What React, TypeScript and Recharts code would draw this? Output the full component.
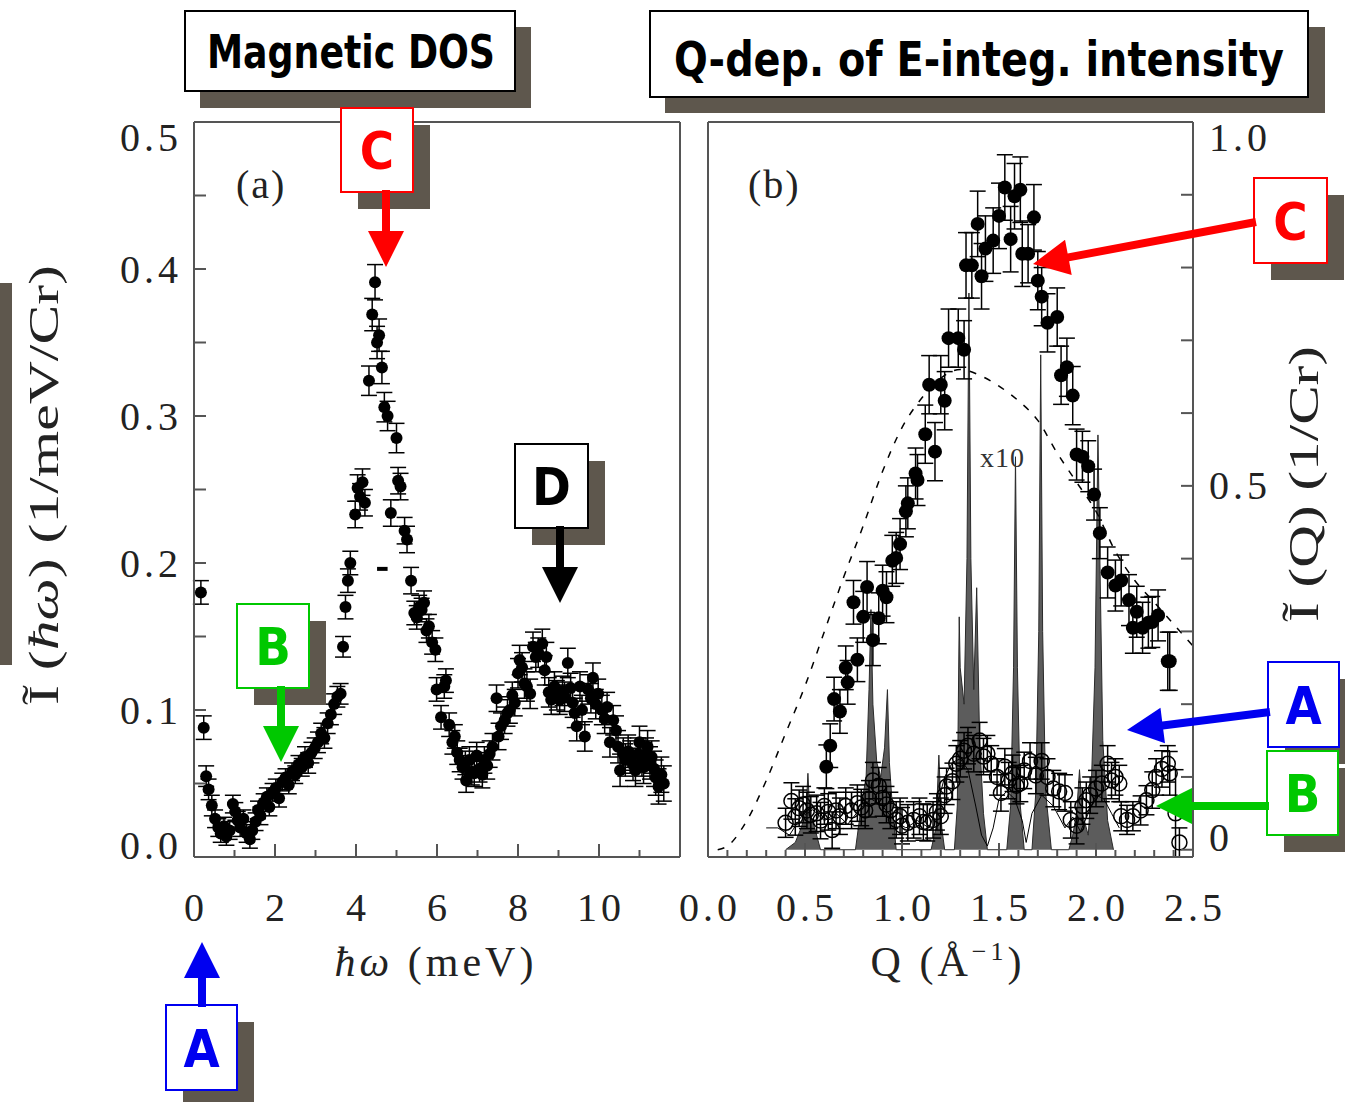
import React from "react";
import { ComposedChart, Scatter, Area, Line, XAxis, YAxis, ErrorBar, ReferenceLine } from "recharts";

// ---------- panel (a): magnetic DOS ----------
const energyA = [
  0.17, 0.24, 0.3, 0.36, 0.44, 0.52, 0.6, 0.66, 0.74, 0.8, 0.88, 0.96, 1.02, 1.08, 1.14, 1.22, 1.3, 1.38, 1.44, 1.52,
  1.58, 1.64, 1.72, 1.8, 1.86, 1.94, 2.02, 2.1, 2.18, 2.26, 2.34, 2.42, 2.5, 2.58, 2.66, 2.74, 2.82, 2.9, 2.98, 3.06,
  3.14, 3.22, 3.3, 3.38, 3.46, 3.54, 3.62, 3.68, 3.74, 3.8, 3.86, 3.98, 4.04, 4.1, 4.16, 4.22, 4.32, 4.4, 4.47, 4.52,
  4.57, 4.64, 4.7, 4.78, 4.86, 5.0, 5.04, 5.1, 5.2, 5.26, 5.36, 5.44, 5.5, 5.56, 5.62, 5.68, 5.74, 5.8, 5.88, 5.96,
  5.99, 6.1, 6.18, 6.22, 6.3, 6.38, 6.44, 6.5, 6.56, 6.63, 6.7, 6.72, 6.8, 6.86, 6.92, 6.98, 7.05, 7.12, 7.17, 7.24,
  7.3, 7.37, 7.47, 7.52, 7.58, 7.67, 7.74, 7.8, 7.86, 7.92, 8.0, 8.04, 8.1, 8.16, 8.22, 8.3, 8.37, 8.44, 8.5, 8.6,
  8.66, 8.7, 8.76, 8.82, 8.9, 8.96, 9.03, 9.1, 9.15, 9.23, 9.3, 9.35, 9.4, 9.45, 9.53, 9.58, 9.65, 9.73, 9.8, 9.85,
  9.92, 9.98, 10.07, 10.14, 10.2, 10.27, 10.35, 10.42, 10.47, 10.52, 10.6, 10.65, 10.72, 10.77, 10.84, 10.9, 10.96,
  11.0, 11.06, 11.1, 11.16, 11.2, 11.26, 11.3, 11.36, 11.4, 11.47, 11.54, 11.6,
];
const dosA = [
  0.18, 0.088, 0.055, 0.046, 0.035, 0.026, 0.02, 0.016, 0.021, 0.014, 0.018, 0.036, 0.031, 0.025, 0.02, 0.026, 0.016, 0.012, 0.018, 0.024,
  0.032, 0.028, 0.037, 0.041, 0.034, 0.044, 0.047, 0.04, 0.051, 0.054, 0.049, 0.058, 0.056, 0.063, 0.061, 0.068, 0.064, 0.071, 0.074, 0.078,
  0.084, 0.081, 0.091, 0.097, 0.104, 0.109, 0.111, 0.143, 0.17, 0.188, 0.2, 0.233, 0.251, 0.245, 0.255, 0.241, 0.324, 0.369, 0.391, 0.35,
  0.355, 0.333, 0.306, 0.3, 0.234, 0.285, 0.256, 0.252, 0.222, 0.216, 0.188, 0.166, 0.163, 0.17, 0.168, 0.173, 0.154, 0.157, 0.146, 0.141,
  0.114, 0.095, 0.116, 0.12, 0.09, 0.078, 0.082, 0.071, 0.066, 0.061, 0.064, 0.052, 0.066, 0.058, 0.057, 0.069, 0.06, 0.056, 0.066, 0.062,
  0.07, 0.075, 0.108, 0.082, 0.089, 0.093, 0.098, 0.1, 0.11, 0.105, 0.125, 0.134, 0.129, 0.118, 0.116, 0.111, 0.143, 0.136, 0.139, 0.145,
  0.127, 0.136, 0.112, 0.107, 0.116, 0.11, 0.107, 0.113, 0.109, 0.132, 0.115, 0.105, 0.098, 0.089, 0.116, 0.1, 0.082, 0.114, 0.108, 0.122,
  0.104, 0.111, 0.1, 0.094, 0.102, 0.078, 0.093, 0.086, 0.075, 0.059, 0.07, 0.066, 0.072, 0.068, 0.063, 0.059, 0.07,
  0.078, 0.066, 0.061, 0.07, 0.075, 0.064, 0.068, 0.06, 0.054, 0.048, 0.056, 0.05,
];
const dosErrA = [
  0.008, 0.008, 0.007, 0.007, 0.007, 0.006, 0.006, 0.006, 0.006, 0.006, 0.006, 0.006, 0.006, 0.006, 0.006, 0.006, 0.006, 0.006, 0.006, 0.006,
  0.006, 0.006, 0.006, 0.006, 0.006, 0.006, 0.006, 0.006, 0.006, 0.006, 0.006, 0.006, 0.006, 0.006, 0.006, 0.007, 0.007, 0.007, 0.007, 0.007,
  0.007, 0.007, 0.007, 0.007, 0.007, 0.007, 0.007, 0.007, 0.008, 0.008, 0.008, 0.009, 0.009, 0.009, 0.009, 0.009, 0.01, 0.011, 0.012, 0.011,
  0.011, 0.011, 0.01, 0.01, 0.009, 0.01, 0.009, 0.009, 0.009, 0.009, 0.009, 0.008, 0.008, 0.008, 0.008, 0.008, 0.008, 0.008, 0.008, 0.008,
  0.008, 0.008, 0.008, 0.008, 0.008, 0.008, 0.008, 0.008, 0.008, 0.008, 0.008, 0.008, 0.009, 0.009, 0.009, 0.009, 0.009, 0.009, 0.009, 0.009,
  0.009, 0.009, 0.009, 0.009, 0.009, 0.009, 0.009, 0.009, 0.009, 0.009, 0.01, 0.01, 0.01, 0.01, 0.01, 0.01, 0.01, 0.01, 0.01, 0.01,
  0.01, 0.01, 0.01, 0.01, 0.01, 0.01, 0.01, 0.01, 0.01, 0.01, 0.01, 0.01, 0.01, 0.01, 0.01, 0.01, 0.01, 0.01, 0.01, 0.01,
  0.01, 0.01, 0.01, 0.01, 0.01, 0.01, 0.01, 0.01, 0.011, 0.011, 0.011, 0.011, 0.011, 0.011, 0.011, 0.011, 0.011,
  0.011, 0.011, 0.011, 0.011, 0.011, 0.011, 0.011, 0.012, 0.012, 0.012, 0.012, 0.012,
];

// ---------- panel (b): Q dependence ----------
const qFilled = [
  0.61, 0.63, 0.65, 0.68, 0.71, 0.72, 0.75, 0.77, 0.8, 0.82, 0.85, 0.88, 0.9, 0.92, 0.95, 0.97, 0.99, 1.02, 1.03, 1.07,
  1.08, 1.12, 1.14, 1.17, 1.2, 1.22, 1.24, 1.29, 1.32, 1.33, 1.36, 1.39, 1.41, 1.43, 1.47, 1.5, 1.53, 1.56, 1.58, 1.61,
  1.62, 1.65, 1.68, 1.7, 1.72, 1.75, 1.8, 1.82, 1.85, 1.88, 1.9, 1.93, 1.96, 1.99, 2.02, 2.06, 2.1, 2.13, 2.17, 2.19,
  2.21, 2.24, 2.27, 2.29, 2.32, 2.37, 2.38,
];
const intFilled = [
  0.114, 0.143, 0.207, 0.19, 0.25, 0.23, 0.34, 0.261, 0.32, 0.361, 0.288, 0.318, 0.356, 0.347, 0.397, 0.401, 0.42, 0.465, 0.476, 0.517,
  0.508, 0.571, 0.639, 0.547, 0.639, 0.617, 0.703, 0.703, 0.687, 0.803, 0.803, 0.86, 0.788, 0.826, 0.837, 0.871, 0.91, 0.839, 0.898, 0.907,
  0.819, 0.819, 0.869, 0.782, 0.76, 0.724, 0.732, 0.652, 0.663, 0.624, 0.543, 0.54, 0.527, 0.488, 0.435, 0.381, 0.363, 0.37, 0.343, 0.305,
  0.327, 0.305, 0.312, 0.313, 0.322, 0.259, 0.259,
];
const errFilled = [
  0.03, 0.03, 0.03, 0.03, 0.03, 0.03, 0.03, 0.03, 0.035, 0.035, 0.035, 0.035, 0.035, 0.035, 0.035, 0.035, 0.035, 0.035, 0.035, 0.035,
  0.035, 0.04, 0.04, 0.04, 0.04, 0.04, 0.04, 0.04, 0.04, 0.045, 0.045, 0.045, 0.045, 0.045, 0.045, 0.045, 0.045, 0.045, 0.045, 0.045,
  0.045, 0.04, 0.045, 0.04, 0.04, 0.04, 0.04, 0.04, 0.04, 0.04, 0.035, 0.035, 0.035, 0.035, 0.035, 0.035, 0.035, 0.035, 0.035, 0.035,
  0.035, 0.035, 0.035, 0.035, 0.035, 0.04, 0.04,
];

const qOpen = [
  0.4, 0.43, 0.45, 0.47, 0.49, 0.51, 0.53, 0.56, 0.58, 0.6, 0.62, 0.64, 0.66, 0.68, 0.71, 0.74, 0.77, 0.79, 0.81, 0.83,
  0.85, 0.88, 0.9, 0.92, 0.94, 0.97, 0.99, 1.0, 1.03, 1.06, 1.09, 1.11, 1.13, 1.16, 1.18, 1.2, 1.22, 1.23, 1.26, 1.28,
  1.3, 1.32, 1.34, 1.37, 1.4, 1.42, 1.44, 1.46, 1.49, 1.51, 1.53, 1.55, 1.57, 1.59, 1.61, 1.63, 1.66, 1.69, 1.72, 1.75,
  1.78, 1.81, 1.84, 1.87, 1.9, 1.93, 1.95, 1.97, 2.0, 2.03, 2.06, 2.08, 2.1, 2.12, 2.13, 2.16, 2.19, 2.23, 2.26, 2.29,
  2.31, 2.34, 2.37, 2.38, 2.41, 2.43,
];
const intOpen = [
  0.037, 0.067, 0.045, 0.057, 0.062, 0.054, 0.048, 0.05, 0.04, 0.06, 0.052, 0.027, 0.054, 0.046, 0.06, 0.054, 0.064, 0.058, 0.054, 0.07,
  0.095, 0.088, 0.071, 0.062, 0.054, 0.041, 0.046, 0.033, 0.037, 0.041, 0.046, 0.038, 0.037, 0.041, 0.052, 0.046, 0.075, 0.087, 0.094, 0.118,
  0.125, 0.136, 0.143, 0.132, 0.15, 0.128, 0.132, 0.118, 0.1, 0.078, 0.114, 0.095, 0.105, 0.088, 0.091, 0.109, 0.122, 0.102, 0.122, 0.1,
  0.084, 0.08, 0.078, 0.041, 0.033, 0.06, 0.068, 0.075, 0.084, 0.091, 0.118, 0.095, 0.1, 0.091, 0.046, 0.041, 0.046, 0.054, 0.068, 0.082,
  0.1, 0.111, 0.118, 0.105, 0.05, 0.01,
];
const errOpen = [
  0.02, 0.025, 0.025, 0.025, 0.025, 0.025, 0.025, 0.025, 0.025, 0.025, 0.025, 0.025, 0.025, 0.025, 0.025, 0.025, 0.025, 0.025, 0.025, 0.025,
  0.025, 0.025, 0.025, 0.025, 0.025, 0.025, 0.025, 0.025, 0.025, 0.025, 0.025, 0.025, 0.025, 0.025, 0.025, 0.025, 0.025, 0.025, 0.025, 0.025,
  0.025, 0.025, 0.025, 0.025, 0.025, 0.025, 0.025, 0.025, 0.025, 0.025, 0.025, 0.025, 0.025, 0.025, 0.025, 0.025, 0.025, 0.025, 0.025, 0.025,
  0.025, 0.025, 0.025, 0.025, 0.025, 0.025, 0.025, 0.025, 0.025, 0.025, 0.025, 0.025, 0.025, 0.025, 0.02, 0.02, 0.02, 0.02, 0.02, 0.025,
  0.025, 0.025, 0.025, 0.03, 0.06, 0.02,
];

// nuclear Bragg scattering x10 (grey spikes)
const qBragg = [
  0.4, 0.45, 0.48, 0.505, 0.515, 0.525, 0.55, 0.58, 0.76, 0.79, 0.815, 0.83, 0.84, 0.85, 0.87, 0.89, 0.91, 0.925, 0.935, 0.95,
  0.97, 1.15, 1.175, 1.19, 1.205, 1.22, 1.27, 1.285, 1.295, 1.3, 1.32, 1.335, 1.345, 1.355, 1.37, 1.385, 1.4, 1.42, 1.44, 1.54,
  1.56, 1.575, 1.585, 1.595, 1.61, 1.63, 1.67, 1.69, 1.705, 1.715, 1.725, 1.74, 1.77, 1.86, 1.88, 1.9, 1.915, 1.93, 1.96, 1.975,
  1.995, 2.01, 2.02, 2.035, 2.06, 2.09,
];
const intBragg = [
  0, 0.01, 0.03, 0.05, 0.105, 0.05, 0.03, 0, 0, 0.06, 0.1, 0.22, 0.33, 0.2, 0.12, 0.1, 0.14, 0.22, 0.12, 0.06,
  0, 0, 0.03, 0.13, 0.03, 0, 0, 0.06, 0.32, 0.25, 0.2, 0.4, 0.765, 0.4, 0.22, 0.36, 0.15, 0.05, 0, 0,
  0.06, 0.25, 0.54, 0.25, 0.06, 0, 0, 0.08, 0.3, 0.68, 0.3, 0.08, 0, 0, 0.02, 0.05, 0.11, 0.05, 0.02, 0.08,
  0.25, 0.57, 0.4, 0.15, 0.04, 0,
];

// thin solid line under the open circles
const qThin = [
  0.3, 0.36, 0.42, 0.48, 0.54, 0.6, 0.66, 0.72, 0.78, 0.84, 0.9, 0.96, 1.02, 1.08, 1.14, 1.18, 1.22, 1.26, 1.3, 1.34,
  1.38, 1.41, 1.44, 1.47, 1.5, 1.54, 1.58, 1.62, 1.64, 1.67, 1.72, 1.78, 1.84, 1.88, 1.92, 1.96, 2.0, 2.04, 2.08, 2.12,
];
const intThin = [
  0.03, 0.03, 0.02, 0.045, 0.055, 0.04, 0.05, 0.035, 0.055, 0.07, 0.06, 0.04, 0.03, 0.04, 0.03, 0.06, 0.1, 0.12, 0.125, 0.11,
  0.06, 0.02, 0.005, 0.03, 0.07, 0.08, 0.07, 0.04, 0.01, 0.05, 0.075, 0.06, 0.03, 0.045, 0.025, 0.05, 0.075, 0.07, 0.05, 0.03,
];

// dashed form-factor curve
const qDash = [0.05, 0.1, 0.2, 0.3, 0.4, 0.5, 0.6, 0.7, 0.8, 0.9, 1.0, 1.1, 1.2, 1.3, 1.4, 1.5, 1.6, 1.7, 1.8, 1.9, 2.0, 2.1, 2.2, 2.3, 2.4, 2.5];
const intDash = [0, 0.005, 0.04, 0.095, 0.16, 0.225, 0.3, 0.375, 0.445, 0.52, 0.58, 0.62, 0.648, 0.66, 0.652, 0.637, 0.617, 0.59, 0.545, 0.505, 0.465, 0.41, 0.37, 0.34, 0.31, 0.28];

// axis ticks
const xTicksA = [0, 1, 2, 3, 4, 5, 6, 7, 8, 9, 10, 11, 12];
const xMajorA = [0, 2, 4, 6, 8, 10, 12];
const xLabelsA: Record<string, string> = { "0.00": "0", "2.00": "2", "4.00": "4", "6.00": "6", "8.00": "8", "10.00": "10" };
const yTicksA = [0, 0.05, 0.1, 0.15, 0.2, 0.25, 0.3, 0.35, 0.4, 0.45, 0.5];
const yLabelsA: Record<string, string> = { "0.00": "0.0", "0.10": "0.1", "0.20": "0.2", "0.30": "0.3", "0.40": "0.4", "0.50": "0.5" };
const xTicksB = [0, 0.1, 0.2, 0.3, 0.4, 0.5, 0.6, 0.7, 0.8, 0.9, 1.0, 1.1, 1.2, 1.3, 1.4, 1.5, 1.6, 1.7, 1.8, 1.9, 2.0, 2.1, 2.2, 2.3, 2.4, 2.5];
const xMajorB = [0, 0.5, 1.0, 1.5, 2.0, 2.5];
const xLabelsB: Record<string, string> = { "0.00": "0.0", "0.50": "0.5", "1.00": "1.0", "1.50": "1.5", "2.00": "2.0", "2.50": "2.5" };
const yTicksB = [0, 0.1, 0.2, 0.3, 0.4, 0.5, 0.6, 0.7, 0.8, 0.9, 1.0];
const yLabelsB: Record<string, string> = { "0.00": "0", "0.50": "0.5", "1.00": "1.0" };

const zip = (xs: number[], ys: number[], es?: number[]) => xs.map((x, i) => ({ x, y: ys[i], err: es ? es[i] : 0 }));

const SERIF = "'Liberation Serif', 'DejaVu Serif', serif";
const HAND = "'Liberation Sans Narrow', 'DejaVu Sans Condensed', 'DejaVu Sans', sans-serif";
const FRAME = "#555";
const SHADOW = "#5e574d";
const RED = "#ff0000";
const GREEN = "#00c800";
const BLUE = "#0000f0";

function tickRenderer(side: string, labels: Record<string, string>, majors: number[] | null, majorLen: number, minorLen: number) {
  return (props: any) => {
    const { x, y, payload, index, visibleTicksCount } = props;
    const v = Number(payload.value);
    const key = v.toFixed(2);
    const major = majors ? majors.some((m) => Math.abs(m - v) < 1e-6) : true;
    const len = major ? majorLen : minorLen;
    const lab = labels[key];
    const ts = { fontFamily: SERIF, fontSize: 40, fill: "#222", letterSpacing: 4 } as any;
    let dy = 0;
    if (side === "left" || side === "right") {
      if (index === 0) dy = -12;
      if (index === visibleTicksCount - 1) dy = 15;
    }
    if (side === "left")
      return (
        <g>
          <line x1={x} y1={y} x2={x + len} y2={y} stroke={FRAME} strokeWidth={2} />
          {lab && <text x={x - 12} y={y + dy} textAnchor="end" dominantBaseline="central" style={ts}>{lab}</text>}
        </g>
      );
    if (side === "right")
      return (
        <g>
          <line x1={x} y1={y} x2={x - len} y2={y} stroke={FRAME} strokeWidth={2} />
          {lab && <text x={x + 16} y={y + dy} textAnchor="start" dominantBaseline="central" style={ts}>{lab}</text>}
        </g>
      );
    if (side === "bottom")
      return (
        <g>
          <line x1={x} y1={y} x2={x} y2={y - len} stroke={FRAME} strokeWidth={2} />
          {lab && <text x={x + 2} y={y + 50} textAnchor="middle" dominantBaseline="central" style={ts}>{lab}</text>}
        </g>
      );
    return (
      <g>
        <line x1={x} y1={y} x2={x} y2={y + len} stroke={FRAME} strokeWidth={2} />
      </g>
    );
  };
}

const dot = (r: number) => (p: any) => <circle cx={p.cx} cy={p.cy} r={r} fill="#000" />;
const ring = (p: any) => <circle cx={p.cx} cy={p.cy} r={7.5} fill="none" stroke="#000" strokeWidth={1.5} />;

function Arrow({ x1, y1, x2, y2, color }: { x1: number; y1: number; x2: number; y2: number; color: string }) {
  const dx = x2 - x1;
  const dy = y2 - y1;
  const L = Math.hypot(dx, dy);
  const ux = dx / L;
  const uy = dy / L;
  const nx = -uy;
  const ny = ux;
  const hl = 36;
  const hw = 18;
  const sw = 4;
  const bx = x2 - ux * hl;
  const by = y2 - uy * hl;
  const pts = [
    [x1 + nx * sw, y1 + ny * sw],
    [bx + nx * sw, by + ny * sw],
    [bx + nx * hw, by + ny * hw],
    [x2, y2],
    [bx - nx * hw, by - ny * hw],
    [bx - nx * sw, by - ny * sw],
    [x1 - nx * sw, y1 - ny * sw],
  ];
  return <polygon points={pts.map((p) => p.join(",")).join(" ")} fill={color} />;
}

function Callout({ x, y, w, h, label, color }: { x: number; y: number; w: number; h: number; label: string; color: string }) {
  return (
    <g>
      <rect x={x + 17} y={y + 17} width={w} height={h} fill={SHADOW} />
      <rect x={x} y={y} width={w} height={h} fill="#fff" stroke={color} strokeWidth={2} />
      <text x={x + w / 2} y={y + h / 2 + 19} textAnchor="middle" fill={color} style={{ fontFamily: HAND, fontSize: 52, fontWeight: 700 }}>
        {label}
      </text>
    </g>
  );
}

export default function App() {
  const dos = zip(energyA, dosA, dosErrA);
  const filled = zip(qFilled, intFilled, errFilled);
  const open = zip(qOpen, intOpen, errOpen);
  const bragg = zip(qBragg, intBragg);
  const thin = zip(qThin, intThin);
  const dash = zip(qDash, intDash);
  const axisLine = { stroke: FRAME, strokeWidth: 2 };

  return (
    <div style={{ position: "absolute", left: 0, top: 0, width: 1345, height: 1102, background: "#fff", overflow: "hidden" }}>
      <div style={{ position: "absolute", left: 0, top: 0 }}>
        <ComposedChart width={700} height={1000} margin={{ top: 112, left: 114, right: 10, bottom: 83 }}>
          <XAxis xAxisId="b" dataKey="x" type="number" domain={[0, 12]} ticks={xTicksA} interval={0} height={60} tickSize={0} tickMargin={0} tickLine={false} axisLine={axisLine} tick={tickRenderer("bottom", xLabelsA, xMajorA, 13, 7)} />
          <XAxis xAxisId="t" dataKey="x" type="number" orientation="top" domain={[0, 12]} ticks={xTicksA} interval={0} height={10} tickSize={0} tickMargin={0} tickLine={false} axisLine={axisLine} tick={tickRenderer("top", {}, xMajorA, 13, 7)} />
          <YAxis yAxisId="l" dataKey="y" type="number" domain={[0, 0.5]} ticks={yTicksA} interval={0} width={80} tickSize={0} tickMargin={0} tickLine={false} axisLine={axisLine} tick={tickRenderer("left", yLabelsA, null, 12, 12)} />
          <YAxis yAxisId="r" dataKey="y" type="number" orientation="right" domain={[0, 0.5]} ticks={yTicksA} interval={0} width={10} tickSize={0} tickMargin={0} tickLine={false} axisLine={axisLine} tick={tickRenderer("right", {}, null, 12, 12)} />
          <ReferenceLine xAxisId="b" yAxisId="l" segment={[{ x: 4.52, y: 0.196 }, { x: 4.78, y: 0.196 }]} stroke="#000" strokeWidth={4} />
          <Scatter xAxisId="b" yAxisId="l" data={dos} dataKey="y" shape={dot(6)} isAnimationActive={false}>
            <ErrorBar dataKey="err" direction="y" width={8} stroke="#000" strokeWidth={1.5} />
          </Scatter>
        </ComposedChart>
      </div>

      <div style={{ position: "absolute", left: 650, top: 0 }}>
        <ComposedChart width={695} height={1000} margin={{ top: 112, left: 48, right: 52, bottom: 83 }}>
          <XAxis xAxisId="b" dataKey="x" type="number" domain={[0, 2.5]} ticks={xTicksB} interval={0} height={60} tickSize={0} tickMargin={0} tickLine={false} axisLine={axisLine} tick={tickRenderer("bottom", xLabelsB, xMajorB, 14, 7)} />
          <XAxis xAxisId="t" dataKey="x" type="number" orientation="top" domain={[0, 2.5]} ticks={xTicksB} interval={0} height={10} tickSize={0} tickMargin={0} tickLine={false} axisLine={axisLine} tick={tickRenderer("top", {}, xMajorB, 15, 6)} />
          <YAxis yAxisId="l" dataKey="y" type="number" domain={[0, 1]} ticks={yTicksB} interval={0} width={10} tickSize={0} tickMargin={0} tickLine={false} axisLine={axisLine} tick={tickRenderer("left", {}, null, 12, 12)} />
          <YAxis yAxisId="r" dataKey="y" type="number" orientation="right" domain={[0, 1]} ticks={yTicksB} interval={0} width={100} tickSize={0} tickMargin={0} tickLine={false} axisLine={axisLine} tick={tickRenderer("right", yLabelsB, null, 12, 12)} />
          <Area xAxisId="b" yAxisId="r" data={bragg} dataKey="y" type="linear" fill="#5c5c5c" fillOpacity={1} stroke="#2a2a2a" strokeWidth={1} dot={false} activeDot={false} isAnimationActive={false} />
          <Line xAxisId="b" yAxisId="r" data={dash} dataKey="y" type="monotone" stroke="#000" strokeWidth={1.5} strokeDasharray="7 9" dot={false} activeDot={false} isAnimationActive={false} />
          <Line xAxisId="b" yAxisId="r" data={thin} dataKey="y" type="linear" stroke="#000" strokeWidth={1} dot={false} activeDot={false} isAnimationActive={false} />
          <Scatter xAxisId="b" yAxisId="r" data={open} dataKey="y" shape={ring} isAnimationActive={false}>
            <ErrorBar dataKey="err" direction="y" width={8} stroke="#000" strokeWidth={1.5} />
          </Scatter>
          <Scatter xAxisId="b" yAxisId="r" data={filled} dataKey="y" shape={dot(7)} isAnimationActive={false}>
            <ErrorBar dataKey="err" direction="y" width={8} stroke="#000" strokeWidth={1.5} />
          </Scatter>
        </ComposedChart>
      </div>

      <svg width={1345} height={1102} style={{ position: "absolute", left: 0, top: 0, pointerEvents: "none" }}>
        {/* titles */}
        <rect x={200} y={27} width={331} height={81} fill={SHADOW} />
        <rect x={185} y={11} width={330} height={80} fill="#fff" stroke="#000" strokeWidth={2} />
        <text x={351} y={68} textAnchor="middle" textLength={288} lengthAdjust="spacingAndGlyphs" style={{ fontFamily: HAND, fontSize: 46, fontWeight: 700 }}>
          Magnetic DOS
        </text>
        <rect x={665} y={27} width={660} height={86} fill={SHADOW} />
        <rect x={650} y={11} width={658} height={86} fill="#fff" stroke="#000" strokeWidth={2} />
        <text x={979} y={76} textAnchor="middle" textLength={610} lengthAdjust="spacingAndGlyphs" style={{ fontFamily: HAND, fontSize: 48, fontWeight: 700 }}>
          Q-dep. of E-integ. intensity
        </text>

        {/* panel letters */}
        <text x={236} y={198} style={{ fontFamily: SERIF, fontSize: 40, fill: "#222", letterSpacing: 2 }}>(a)</text>
        <text x={748} y={198} style={{ fontFamily: SERIF, fontSize: 40, fill: "#222", letterSpacing: 2 }}>(b)</text>
        <text x={980} y={467} style={{ fontFamily: SERIF, fontSize: 28, fill: "#333", letterSpacing: 1 }}>x10</text>

        {/* axis titles */}
        <text x={436} y={976} textAnchor="middle" style={{ fontFamily: SERIF, fontSize: 42, fill: "#222", letterSpacing: 4 }}>
          <tspan fontStyle="italic">ħω</tspan> (meV)
        </text>
        <text x={948} y={976} textAnchor="middle" style={{ fontFamily: SERIF, fontSize: 42, fill: "#222", letterSpacing: 4 }}>
          Q (Å<tspan dy={-16} fontSize={26}>−1</tspan>
          <tspan dy={16}>)</tspan>
        </text>
        <rect x={0} y={283} width={12} height={382} fill={SHADOW} />
        <text transform="translate(44,485) rotate(-90)" textAnchor="middle" dominantBaseline="central" textLength={440} lengthAdjust="spacingAndGlyphs" style={{ fontFamily: SERIF, fontSize: 42, fill: "#222" }}>
          Ĩ (<tspan fontStyle="italic">ħω</tspan>) (1/meV/Cr)
        </text>
        <text transform="translate(1304,484) rotate(-90)" textAnchor="middle" dominantBaseline="central" textLength={276} lengthAdjust="spacingAndGlyphs" style={{ fontFamily: SERIF, fontSize: 42, fill: "#222" }}>
          Ĩ (Q) (1/Cr)
        </text>

        {/* callouts */}
        <Callout x={341} y={108} w={72} h={84} label="C" color={RED} />
        <Arrow x1={386} y1={190} x2={386} y2={267} color={RED} />
        <Callout x={515} y={444} w={73} h={84} label="D" color="#000" />
        <Arrow x1={560} y1={526} x2={560} y2={603} color="#000" />
        <Callout x={237} y={604} w={72} h={84} label="B" color={GREEN} />
        <Arrow x1={281} y1={686} x2={281} y2={762} color={GREEN} />
        <Callout x={166} y={1005} w={71} h={85} label="A" color={BLUE} />
        <Arrow x1={202} y1={1007} x2={202} y2={942} color={BLUE} />
        <Callout x={1254} y={178} w={73} h={85} label="C" color={RED} />
        <Arrow x1={1256} y1={222} x2={1033} y2={264} color={RED} />
        <Callout x={1268} y={662} w={71} h={85} label="A" color={BLUE} />
        <Arrow x1={1270} y1={712} x2={1127} y2={730} color={BLUE} />
        <Callout x={1267} y={751} w={71} h={84} label="B" color={GREEN} />
        <Arrow x1={1269} y1={806} x2={1156} y2={806} color={GREEN} />
      </svg>
    </div>
  );
}
